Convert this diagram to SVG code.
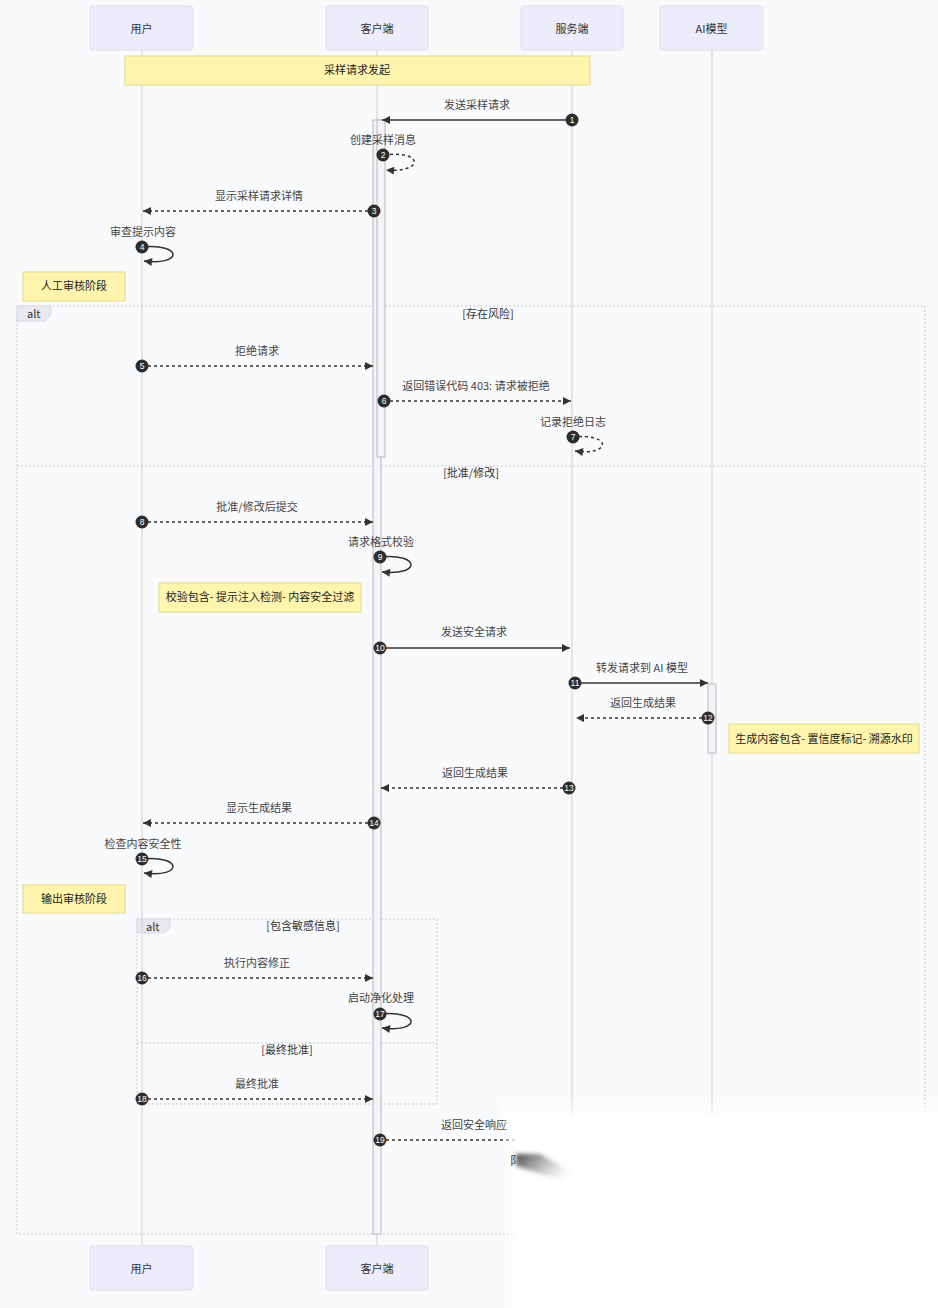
<svg xmlns="http://www.w3.org/2000/svg" width="938" height="1308" viewBox="0 0 938 1308">
<style>
text{font-family:"Noto Sans CJK SC","Noto Sans",sans-serif;}
.bg{fill:#f9fafc;}
.actor rect{fill:#ececfa;stroke:#dedef0;stroke-width:1;}
.actor text{font-size:11px;fill:#333;text-anchor:middle;}
.life{stroke:#cfcfd6;stroke-width:1;}
.act{fill:#f4f4f6;stroke:#b8b8be;stroke-width:1;}
.note rect{fill:#fff5ad;stroke:#e6d88a;stroke-width:1;}
.note text{font-size:11px;fill:#222;text-anchor:middle;}
.lbl{font-size:11px;fill:#444;text-anchor:middle;}
.solid{stroke:#333;stroke-width:1.5;fill:none;}
.dash{stroke:#333;stroke-width:1.5;fill:none;stroke-dasharray:3,3;}
.num circle{fill:#2d2d2d;}
.num text{font-size:8.5px;fill:#fff;text-anchor:middle;font-family:"Liberation Sans",sans-serif;}
.frame{fill:none;stroke:#c8c8cc;stroke-width:1;stroke-dasharray:2,2;}
.fl{fill:#e8e8ee;stroke:#d4d4da;stroke-width:0.8;}
.ft{font-size:11px;fill:#333;}
.cond{font-size:11px;fill:#333;text-anchor:middle;}
</style>
<defs>
<marker id="ah" viewBox="0 0 10 10" refX="10" refY="5" markerWidth="9" markerHeight="8" markerUnits="userSpaceOnUse" orient="auto">
<path d="M0,0 L10,5 L0,10 z" fill="#333"/>
</marker>
<linearGradient id="fadeTop" x1="0" y1="0" x2="0" y2="1">
<stop offset="0" stop-color="#fff" stop-opacity="0"/>
<stop offset="1" stop-color="#fff" stop-opacity="1"/>
</linearGradient>
<linearGradient id="fadeLeft" x1="0" y1="0" x2="1" y2="0">
<stop offset="0" stop-color="#fff" stop-opacity="0"/>
<stop offset="1" stop-color="#fff" stop-opacity="1"/>
</linearGradient>
<linearGradient id="smear" x1="0" y1="0" x2="1" y2="0.4">
<stop offset="0" stop-color="#3a3a3a" stop-opacity="0.95"/>
<stop offset="0.5" stop-color="#777" stop-opacity="0.5"/>
<stop offset="1" stop-color="#ccc" stop-opacity="0"/>
</linearGradient>
<filter id="blur" x="-20%" y="-50%" width="140%" height="200%"><feGaussianBlur stdDeviation="2"/></filter>
</defs>
<rect class="bg" x="0" y="0" width="938" height="1308"/>

<g id="frames">
<rect class="frame" x="17" y="306" width="908" height="928"/>
<path class="fl" d="M17,306 H51 V315 L45,321 H17 z"/>
<text class="ft" x="27" y="318">alt</text>
<text class="cond" x="488" y="318">[存在风险]</text>
<line class="frame" x1="17" y1="466" x2="925" y2="466"/>
<text class="cond" x="471" y="477">[批准/修改]</text>
<rect class="frame" x="137" y="919" width="300" height="185"/>
<path class="fl" d="M137,919 H170 V928 L164,933 H137 z"/>
<text class="ft" x="146" y="931">alt</text>
<text class="cond" x="303" y="930">[包含敏感信息]</text>
<line class="frame" x1="137" y1="1043" x2="437" y2="1043"/>
<text class="cond" x="287" y="1054">[最终批准]</text>
</g>

<g id="lifelines">
<line class="life" x1="142" y1="50" x2="142" y2="1246"/>
<line class="life" x1="377" y1="50" x2="377" y2="1246"/>
<line class="life" x1="572" y1="50" x2="572" y2="1240"/>
<line class="life" x1="712" y1="50" x2="712" y2="1240"/>
</g>

<g id="actor-user-top" class="actor"><rect x="90" y="6" width="103" height="44" rx="3"/><text x="141.5" y="33">用户</text></g>
<g id="actor-client-top" class="actor"><rect x="326" y="6" width="102" height="44" rx="3"/><text x="377" y="33">客户端</text></g>
<g id="actor-server-top" class="actor"><rect x="521" y="6" width="102" height="44" rx="3"/><text x="572" y="33">服务端</text></g>
<g id="actor-ai-top" class="actor"><rect x="660" y="6" width="103" height="44" rx="3"/><text x="711.5" y="33">AI模型</text></g>
<g id="actor-user-bottom" class="actor"><rect x="90" y="1246" width="103" height="44" rx="3"/><text x="141.5" y="1273">用户</text></g>
<g id="actor-client-bottom" class="actor"><rect x="326" y="1246" width="102" height="44" rx="3"/><text x="377" y="1273">客户端</text></g>

<g id="activations">
<rect class="act" x="373" y="120" width="8" height="1114"/>
<rect class="act" x="377" y="120" width="8" height="337"/>
<rect class="act" x="708" y="684" width="8" height="69"/>
</g>

<g id="note-start" class="note"><rect x="125" y="56" width="465" height="29"/><text x="357" y="74">采样请求发起</text></g>
<g id="note-manual" class="note"><rect x="23" y="272" width="102" height="29"/><text x="74" y="290">人工审核阶段</text></g>
<g id="note-check" class="note"><rect x="159" y="583" width="202" height="29"/><text x="260" y="601">校验包含- 提示注入检测- 内容安全过滤</text></g>
<g id="note-gen" class="note"><rect x="729" y="724" width="190" height="29"/><text x="824" y="743">生成内容包含- 置信度标记- 溯源水印</text></g>
<g id="note-output" class="note"><rect x="23" y="885" width="102" height="28"/><text x="74" y="903">输出审核阶段</text></g>

<g id="messages">
<text class="lbl" x="477" y="109">发送采样请求</text>
<line class="solid" x1="572" y1="120" x2="382" y2="120" marker-end="url(#ah)"/>
<text class="lbl" x="383" y="144">创建采样消息</text>
<path class="dash" d="M384,155 C424,150 424,173 386,170" marker-end="url(#ah)"/>
<text class="lbl" x="259" y="200">显示采样请求详情</text>
<line class="dash" x1="374" y1="211" x2="143" y2="211" marker-end="url(#ah)"/>
<text class="lbl" x="143" y="236">审查提示内容</text>
<path class="solid" d="M142,247 C183,243 183,266 144,261" marker-end="url(#ah)"/>
<text class="lbl" x="257" y="355">拒绝请求</text>
<line class="dash" x1="142" y1="366" x2="373" y2="366" marker-end="url(#ah)"/>
<text class="lbl" x="476" y="390">返回错误代码 403: 请求被拒绝</text>
<line class="dash" x1="384" y1="401" x2="571" y2="401" marker-end="url(#ah)"/>
<text class="lbl" x="573" y="426">记录拒绝日志</text>
<path class="dash" d="M573,437 C612,433 612,456 575,451" marker-end="url(#ah)"/>
<text class="lbl" x="257" y="511">批准/修改后提交</text>
<line class="dash" x1="142" y1="522" x2="373" y2="522" marker-end="url(#ah)"/>
<text class="lbl" x="381" y="546">请求格式校验</text>
<path class="solid" d="M380,557 C421,553 421,576 382,572" marker-end="url(#ah)"/>
<text class="lbl" x="474" y="636">发送安全请求</text>
<line class="solid" x1="380" y1="648" x2="570" y2="648" marker-end="url(#ah)"/>
<text class="lbl" x="642" y="672">转发请求到 AI 模型</text>
<line class="solid" x1="575" y1="683" x2="708" y2="683" marker-end="url(#ah)"/>
<text class="lbl" x="643" y="707">返回生成结果</text>
<line class="dash" x1="708" y1="718" x2="576" y2="718" marker-end="url(#ah)"/>
<text class="lbl" x="475" y="777">返回生成结果</text>
<line class="dash" x1="569" y1="788" x2="381" y2="788" marker-end="url(#ah)"/>
<text class="lbl" x="259" y="812">显示生成结果</text>
<line class="dash" x1="374" y1="823" x2="143" y2="823" marker-end="url(#ah)"/>
<text class="lbl" x="143" y="848">检查内容安全性</text>
<path class="solid" d="M142,859 C183,855 183,878 144,873" marker-end="url(#ah)"/>
<text class="lbl" x="257" y="967">执行内容修正</text>
<line class="dash" x1="142" y1="978" x2="373" y2="978" marker-end="url(#ah)"/>
<text class="lbl" x="381" y="1002">启动净化处理</text>
<path class="solid" d="M380,1014 C421,1010 421,1033 382,1028" marker-end="url(#ah)"/>
<text class="lbl" x="257" y="1088">最终批准</text>
<line class="dash" x1="142" y1="1099" x2="373" y2="1099" marker-end="url(#ah)"/>
<text class="lbl" x="474" y="1129">返回安全响应</text>
<line class="dash" x1="380" y1="1140" x2="560" y2="1140"/>
</g>

<g id="numbers" class="num">
<circle cx="572" cy="120" r="6.5"/><text x="572" y="123">1</text>
<circle cx="383" cy="155" r="6.5"/><text x="383" y="158">2</text>
<circle cx="374" cy="211" r="6.5"/><text x="374" y="214">3</text>
<circle cx="142" cy="247" r="6.5"/><text x="142" y="250">4</text>
<circle cx="142" cy="366" r="6.5"/><text x="142" y="369">5</text>
<circle cx="384" cy="401" r="6.5"/><text x="384" y="404">6</text>
<circle cx="573" cy="437" r="6.5"/><text x="573" y="440">7</text>
<circle cx="142" cy="522" r="6.5"/><text x="142" y="525">8</text>
<circle cx="380" cy="557" r="6.5"/><text x="380" y="560">9</text>
<circle cx="380" cy="648" r="6.5"/><text x="380" y="651">10</text>
<circle cx="575" cy="683" r="6.5"/><text x="575" y="686">11</text>
<circle cx="708" cy="718" r="6.5"/><text x="708" y="721">12</text>
<circle cx="569" cy="788" r="6.5"/><text x="569" y="791">13</text>
<circle cx="374" cy="823" r="6.5"/><text x="374" y="826">14</text>
<circle cx="142" cy="859" r="6.5"/><text x="142" y="862">15</text>
<circle cx="142" cy="978" r="6.5"/><text x="142" y="981">16</text>
<circle cx="380" cy="1014" r="6.5"/><text x="380" y="1017">17</text>
<circle cx="142" cy="1099" r="6.5"/><text x="142" y="1102">18</text>
<circle cx="380" cy="1140" r="6.5"/><text x="380" y="1143">19</text>
</g>

<g id="overlay">
<rect x="500" y="1098" width="438" height="22" fill="url(#fadeTop)"/>
<rect x="502" y="1118" width="15" height="190" fill="url(#fadeLeft)"/>
<rect x="517" y="1118" width="421" height="190" fill="#fff"/>
<text x="510" y="1165" style="font-size:11px;fill:#333;">阝</text>
<path d="M516,1154 L540,1154 L582,1178 L560,1180 L516,1166 z" fill="url(#smear)" filter="url(#blur)"/>
</g>
</svg>
